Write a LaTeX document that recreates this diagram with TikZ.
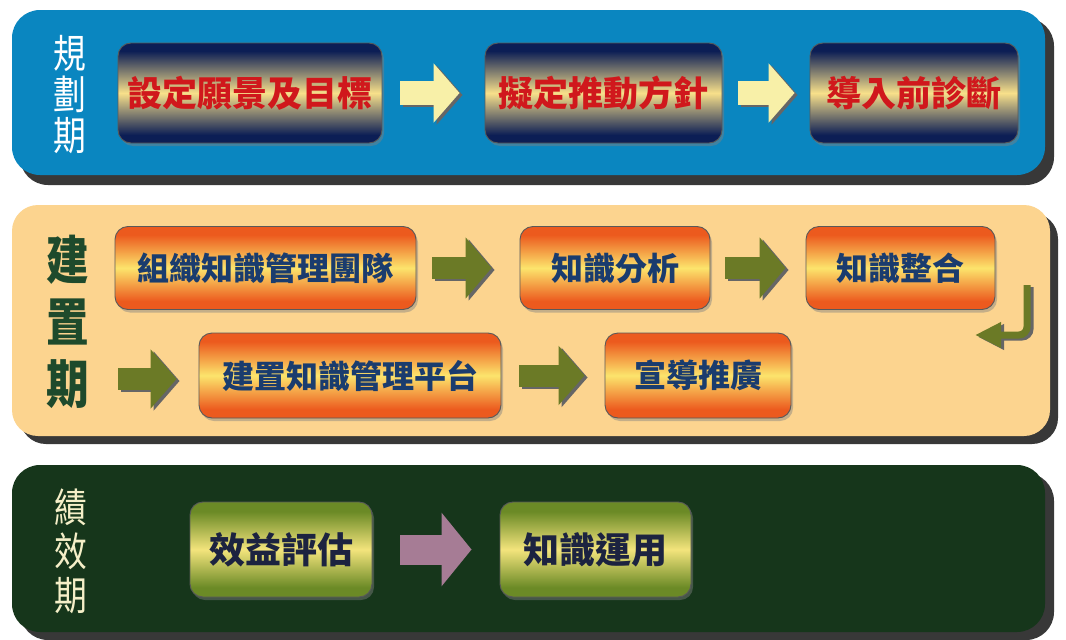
\documentclass[tikz,border=0pt]{standalone}
\usepackage{fontspec}
\newfontfamily\cjk{Noto Sans CJK TC}
\usetikzlibrary{arrows.meta,shadows}
\definecolor{pblue}{HTML}{0A86C0}
\definecolor{ptan}{HTML}{FCD48F}
\definecolor{pgreen}{HTML}{16361B}
\definecolor{navy}{HTML}{0C1E55}
\definecolor{gold}{HTML}{F8E08A}
\definecolor{redtxt}{HTML}{D0181C}
\definecolor{orng}{HTML}{EC5A1E}
\definecolor{yel}{HTML}{FCE46C}
\definecolor{bluetxt}{HTML}{1A3C6E}
\definecolor{olive}{HTML}{6B8A26}
\definecolor{lyel}{HTML}{F3E47C}
\definecolor{dktxt}{HTML}{1C2340}
\definecolor{cream}{HTML}{F8F0A8}
\definecolor{arrolive}{HTML}{6B7A26}
\definecolor{mauve}{HTML}{A67C95}
\definecolor{lblgreen}{HTML}{1E4A2C}
\definecolor{lblcream}{HTML}{F5EFC8}
\pgfdeclareverticalshading{blueband}{100bp}{color(0bp)=(navy); color(25bp)=(navy); color(29bp)=(navy); color(50bp)=(gold); color(71bp)=(navy); color(75bp)=(navy); color(100bp)=(navy)}
\pgfdeclareverticalshading{orangeband}{100bp}{color(0bp)=(orng); color(25bp)=(orng); color(30bp)=(orng); color(50bp)=(yel); color(70bp)=(orng); color(75bp)=(orng); color(100bp)=(orng)}
\pgfdeclareverticalshading{greenband}{100bp}{color(0bp)=(olive); color(25bp)=(olive); color(30bp)=(olive); color(50bp)=(lyel); color(70bp)=(olive); color(75bp)=(olive); color(100bp)=(olive)}
\newcommand{\nx}[1]{\scalebox{0.82}[1]{#1}}
\tikzset{
  panelshadow/.style={fill=black!78},
  box/.style={rounded corners=13pt, draw=black!65, line width=0.9pt, inner sep=0pt,
    drop shadow={shadow xshift=2pt, shadow yshift=-3pt, opacity=0.45}},
  bluebox/.style={box, shading=blueband, text=redtxt,
    minimum height=100pt, font=\cjk\bfseries\fontsize{35}{40}\selectfont},
  orangebox/.style={box, shading=orangeband, text=bluetxt,
    font=\cjk\bfseries\fontsize{32}{36}\selectfont},
  greenbox/.style={box, shading=greenband, text=dktxt,
    minimum height=95pt, font=\cjk\bfseries\fontsize{36}{40}\selectfont},
  blockarrow/.style={line width=24pt, -{Triangle[length=26pt,width=58pt]}},
  arrshadow/.style={transform canvas={shift={(3pt,-2pt)}}, draw=black!60, color=black!60},
  lbl/.style={align=center, inner sep=0pt},
}
\begin{document}
\begin{tikzpicture}[x=1pt,y=-1pt]
\useasboundingbox (0,0) rectangle (1066,640);
\fill[white] (0,0) rectangle (1066,640);
% panels
\fill[panelshadow, rounded corners=28pt] (20,18) rectangle (1054,185);
\fill[pblue, rounded corners=28pt] (12,10) rectangle (1045,175);
\fill[panelshadow, rounded corners=26pt] (20,213) rectangle (1058,444);
\fill[ptan, rounded corners=26pt] (12,205) rectangle (1050,436);
\fill[panelshadow, rounded corners=28pt] (20,473) rectangle (1054,640);
\fill[pgreen, rounded corners=28pt] (12,465) rectangle (1045,632);
% labels
\node[lbl, text=white, font=\cjk\fontsize{40}{41}\selectfont] (L1) at (70,95) {\nx{規}\\\nx{劃}\\\nx{期}};
\node[lbl, text=lblgreen, font=\cjk\bfseries\fontsize{52}{62}\selectfont] (L2) at (68,322) {\nx{建}\\\nx{置}\\\nx{期}};
\node[lbl, text=lblcream, font=\cjk\fontsize{40}{44}\selectfont] (L3) at (71,551) {\nx{績}\\\nx{效}\\\nx{期}};
% row 1
\node[bluebox, minimum width=264pt] (b1) at (250,93) {設定願景及目標};
\node[bluebox, minimum width=237pt] (b2) at (603.5,93) {擬定推動方針};
\node[bluebox, minimum width=208pt] (b3) at (914,93) {導入前診斷};
% row 2
\node[orangebox, minimum width=301pt, minimum height=83pt] (c1) at (265.5,268) {組織知識管理團隊};
\node[orangebox, minimum width=190pt, minimum height=83pt] (c2) at (615,268) {知識分析};
\node[orangebox, minimum width=189pt, minimum height=83pt] (c3) at (900.5,268) {知識整合};
% row 3
\node[orangebox, minimum width=302pt, minimum height=85pt] (d1) at (350,375.5) {建置知識管理平台};
\node[orangebox, minimum width=186pt, minimum height=85pt] (d2) at (698,375.5) {宣導推廣};
% row 4
\node[greenbox, minimum width=182pt] (e1) at (281,549.5) {效益評估};
\node[greenbox, minimum width=191pt] (e2) at (595.5,549.5) {知識運用};
% arrows row 1
\draw[blockarrow, arrshadow, shorten <=18pt, shorten >=25pt] (b1.east) -- (b2.west);
\draw[blockarrow, cream, shorten <=18pt, shorten >=25pt] (b1.east) -- (b2.west);
\draw[blockarrow, arrshadow, shorten <=16pt, shorten >=15pt] (b2.east) -- (b3.west);
\draw[blockarrow, cream, shorten <=16pt, shorten >=15pt] (b2.east) -- (b3.west);
% arrows row 2
\draw[blockarrow, arrshadow, line width=22pt, -{Triangle[length=26pt,width=60pt]}, shorten <=16pt, shorten >=28pt] (c1.east) -- (c2.west);
\draw[blockarrow, arrolive, line width=22pt, -{Triangle[length=26pt,width=60pt]}, shorten <=16pt, shorten >=28pt] (c1.east) -- (c2.west);
\draw[blockarrow, arrshadow, line width=22pt, -{Triangle[length=26pt,width=60pt]}, shorten <=15pt, shorten >=20pt] (c2.east) -- (c3.west);
\draw[blockarrow, arrolive, line width=22pt, -{Triangle[length=26pt,width=60pt]}, shorten <=15pt, shorten >=20pt] (c2.east) -- (c3.west);
% return arrow
\coordinate (r1) at (1027,285);
\coordinate (r2) at (975,335);
\draw[arrshadow, line width=7pt, rounded corners=8pt, -{Triangle[length=26pt,width=24pt]}] (r1) |- (r2);
\draw[arrolive, line width=7pt, rounded corners=8pt, -{Triangle[length=26pt,width=24pt]}] (r1) |- (r2);
% arrows row 3
\coordinate (s0) at (118,379);
\draw[blockarrow, arrshadow, line width=22pt, -{Triangle[length=26pt,width=58pt]}, shorten >=22pt] (s0) -- (d1.west |- s0);
\draw[blockarrow, arrolive, line width=22pt, -{Triangle[length=26pt,width=58pt]}, shorten >=22pt] (s0) -- (d1.west |- s0);
\draw[blockarrow, arrshadow, line width=22pt, -{Triangle[length=26pt,width=58pt]}, shorten <=18pt, shorten >=20pt] (d1.east) -- (d2.west);
\draw[blockarrow, arrolive, line width=22pt, -{Triangle[length=26pt,width=58pt]}, shorten <=18pt, shorten >=20pt] (d1.east) -- (d2.west);
% arrow row 4
\draw[blockarrow, mauve, line width=30pt, -{Triangle[length=30pt,width=72pt]}, shorten <=28pt, shorten >=28pt] (e1.east) -- (e2.west);
\end{tikzpicture}
\end{document}
